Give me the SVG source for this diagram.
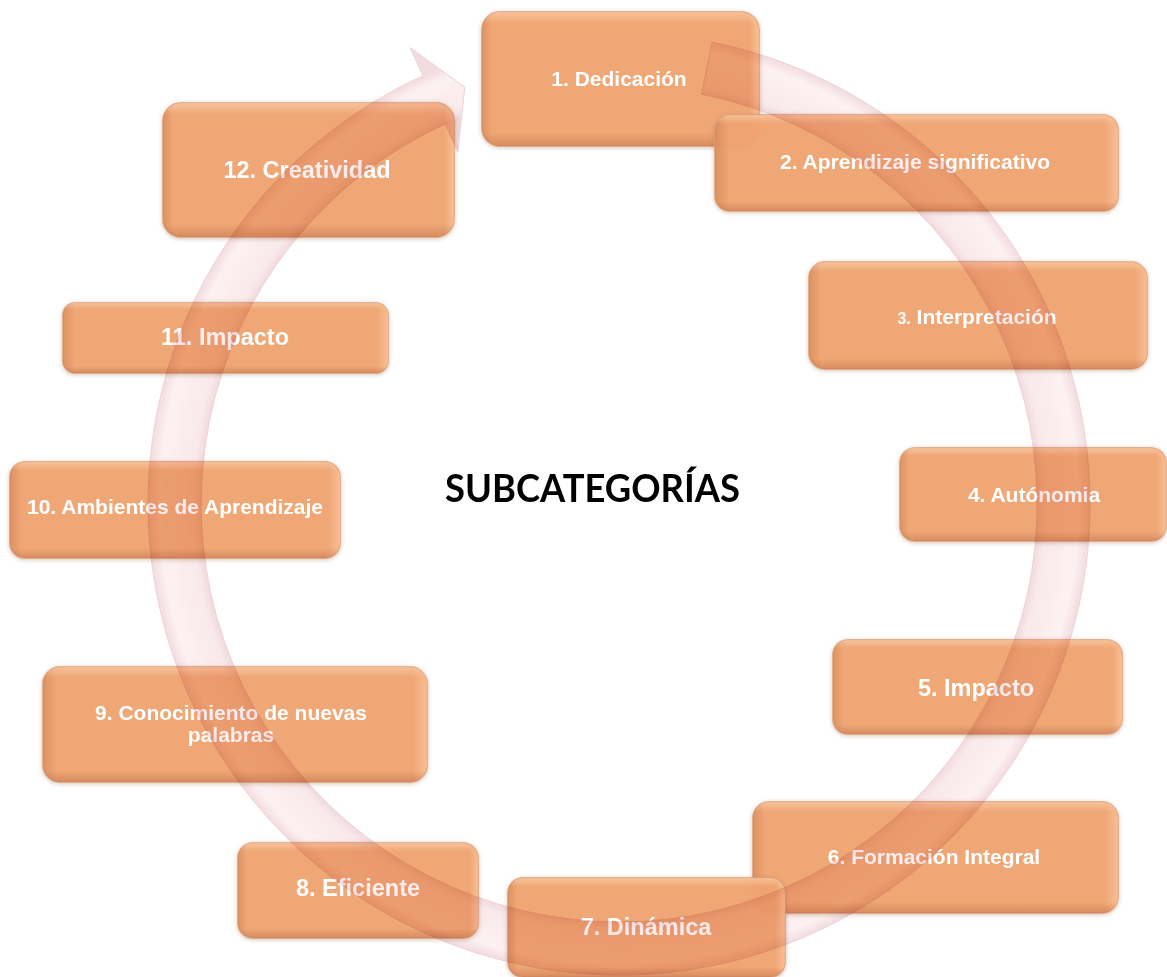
<svg xmlns="http://www.w3.org/2000/svg" width="1167" height="977" viewBox="0 0 1167 977">
<style>
.base{fill:#f1a572;fill-opacity:0.93;stroke:#e0a07a;stroke-width:1.5;filter:url(#sh)}
.bh{fill:url(#gh);stroke:none}
.bv{fill:url(#gv);stroke:none}
.t{font-family:"Liberation Sans",Arial,sans-serif;font-weight:bold;fill:#ffffff;text-anchor:middle}
.s21{font-size:21px}
.s24{font-size:23.5px}
.title{font-family:Lato,"Liberation Sans",sans-serif;font-weight:bold;font-size:39px;fill:#000000}
.band{mix-blend-mode:multiply}
</style>
<defs>
<filter id="sh" x="-10%" y="-10%" width="120%" height="120%">
<feDropShadow dx="0" dy="1" stdDeviation="2" flood-color="#9c6b4c" flood-opacity="0.45"/>
</filter>
<linearGradient id="gh" x1="0" y1="0" x2="1" y2="0">
<stop offset="0" stop-color="#b8683a" stop-opacity="0.35"/>
<stop offset="0.035" stop-color="#b8683a" stop-opacity="0"/>
<stop offset="0.965" stop-color="#ffd2a8" stop-opacity="0"/>
<stop offset="1" stop-color="#ffd2a8" stop-opacity="0.55"/>
</linearGradient>
<linearGradient id="gv" x1="0" y1="0" x2="0" y2="1">
<stop offset="0" stop-color="#ffdcb8" stop-opacity="0.5"/>
<stop offset="0.09" stop-color="#ffdcb8" stop-opacity="0"/>
<stop offset="0.9" stop-color="#a85a30" stop-opacity="0"/>
<stop offset="1" stop-color="#a85a30" stop-opacity="0.35"/>
</linearGradient>
<radialGradient id="ring" gradientUnits="userSpaceOnUse" cx="619" cy="504" r="471">
<stop offset="0.885" stop-color="#f1d8db"/>
<stop offset="0.905" stop-color="#f9e9eb"/>
<stop offset="0.975" stop-color="#fcf1f2"/>
<stop offset="1" stop-color="#f3dcdf"/>
</radialGradient>
</defs>
<rect width="1167" height="977" fill="#ffffff"/>

<g id="node1">
<rect class="base" x="482" y="12" width="277" height="134" rx="18"/>
<rect class="bh" x="482" y="12" width="277" height="134" rx="18"/>
<rect class="bv" x="482" y="12" width="277" height="134" rx="18"/>
<text class="t s21" x="619" y="86">1. Dedicación</text>
</g>
<g id="node2">
<rect class="base" x="715" y="115" width="403" height="96" rx="15"/>
<rect class="bh" x="715" y="115" width="403" height="96" rx="15"/>
<rect class="bv" x="715" y="115" width="403" height="96" rx="15"/>
<text class="t s21" x="915" y="169">2. Aprendizaje significativo</text>
</g>
<g id="node3">
<rect class="base" x="809" y="262" width="338" height="107" rx="16"/>
<rect class="bh" x="809" y="262" width="338" height="107" rx="16"/>
<rect class="bv" x="809" y="262" width="338" height="107" rx="16"/>
<text class="t s21" x="977" y="324"><tspan font-size="16">3.</tspan> Interpretación</text>
</g>
<g id="node4">
<rect class="base" x="900" y="448" width="266" height="93" rx="15"/>
<rect class="bh" x="900" y="448" width="266" height="93" rx="15"/>
<rect class="bv" x="900" y="448" width="266" height="93" rx="15"/>
<text class="t s21" x="1034" y="502">4. Autónomia</text>
</g>
<g id="node5">
<rect class="base" x="833" y="640" width="289" height="94" rx="15"/>
<rect class="bh" x="833" y="640" width="289" height="94" rx="15"/>
<rect class="bv" x="833" y="640" width="289" height="94" rx="15"/>
<text class="t s24" x="976" y="696">5. Impacto</text>
</g>
<g id="node6">
<rect class="base" x="753" y="802" width="365" height="111" rx="16"/>
<rect class="bh" x="753" y="802" width="365" height="111" rx="16"/>
<rect class="bv" x="753" y="802" width="365" height="111" rx="16"/>
<text class="t s21" x="934" y="864">6. Formación Integral</text>
</g>
<g id="node7">
<rect class="base" x="508" y="878" width="277" height="99" rx="15"/>
<rect class="bh" x="508" y="878" width="277" height="99" rx="15"/>
<rect class="bv" x="508" y="878" width="277" height="99" rx="15"/>
<text class="t s24" x="646" y="935">7. Dinámica</text>
</g>
<g id="node8">
<rect class="base" x="238" y="843" width="240" height="95" rx="15"/>
<rect class="bh" x="238" y="843" width="240" height="95" rx="15"/>
<rect class="bv" x="238" y="843" width="240" height="95" rx="15"/>
<text class="t s24" x="358" y="896">8. Eficiente</text>
</g>
<g id="node9">
<rect class="base" x="43" y="667" width="384" height="115" rx="17"/>
<rect class="bh" x="43" y="667" width="384" height="115" rx="17"/>
<rect class="bv" x="43" y="667" width="384" height="115" rx="17"/>
<text class="t s21" x="231" y="720">9. Conocimiento de nuevas</text>
<text class="t s21" x="231" y="742">palabras</text>
</g>
<g id="node10">
<rect class="base" x="10" y="462" width="330" height="96" rx="15"/>
<rect class="bh" x="10" y="462" width="330" height="96" rx="15"/>
<rect class="bv" x="10" y="462" width="330" height="96" rx="15"/>
<text class="t s21" x="175" y="514">10. Ambientes de Aprendizaje</text>
</g>
<g id="node11">
<rect class="base" x="63" y="303" width="325" height="70" rx="12"/>
<rect class="bh" x="63" y="303" width="325" height="70" rx="12"/>
<rect class="bv" x="63" y="303" width="325" height="70" rx="12"/>
<text class="t s24" x="225" y="345">11. Impacto</text>
</g>
<g id="node12">
<rect class="base" x="163" y="103" width="291" height="134" rx="18"/>
<rect class="bh" x="163" y="103" width="291" height="134" rx="18"/>
<rect class="bv" x="163" y="103" width="291" height="134" rx="18"/>
<text class="t s24" x="307" y="178">12. Creatividad</text>
</g>

<g id="connectors">
<path class="band" d="M712.1,42.3 A471,471 0 1 1 422.9,75.8 L410,47.6 L464.8,87.1 L457.9,152.1 L445,124 A418,418 0 1 0 701.6,94.2 Z" fill="url(#ring)" stroke="#ecd2d6" stroke-width="1"/>
</g>

<g id="title">
<text class="title" x="445" y="502" textLength="295" lengthAdjust="spacingAndGlyphs">SUBCATEGORÍAS</text>
</g>
</svg>
